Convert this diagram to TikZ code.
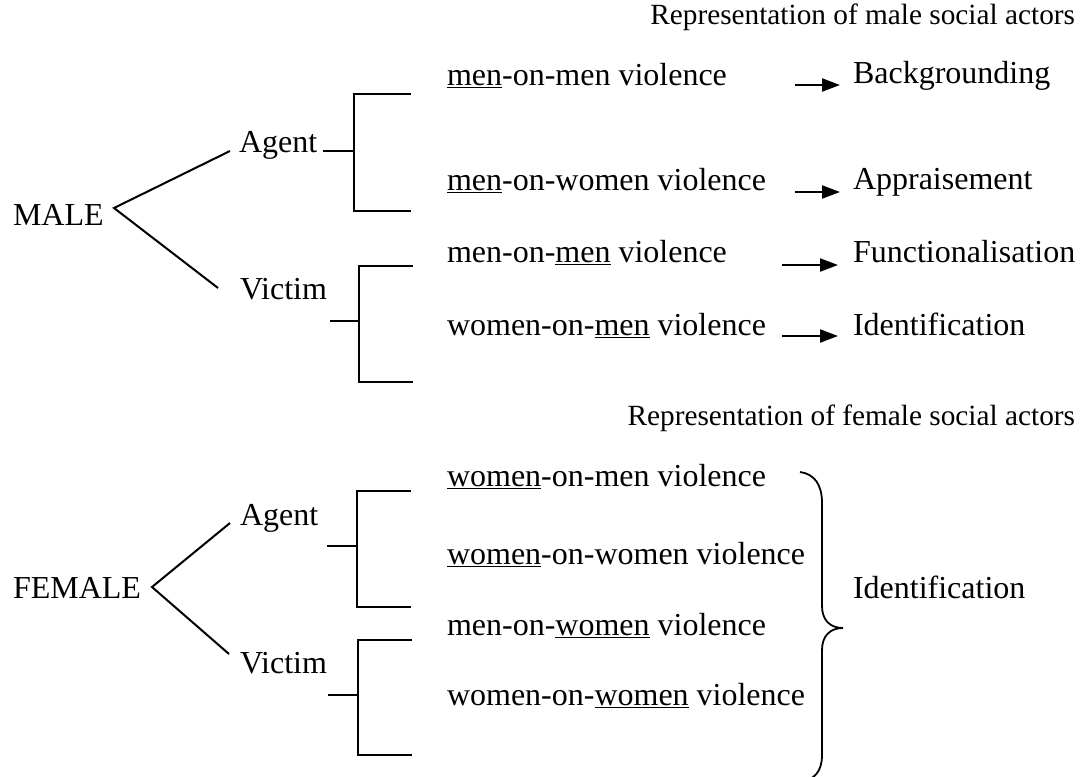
\documentclass[tikz,border=0pt]{standalone}
\usepackage{fontspec}
\setmainfont{Liberation Serif}
\usetikzlibrary{arrows.meta}
\newcommand\ulw[1]{\setbox0\hbox{#1}\rlap{\rule[-3.3pt]{\wd0}{1.6pt}}\box0\relax}
\begin{document}
\begin{tikzpicture}[x=1pt,y=-1pt,
  txt/.style={inner sep=0pt,outer sep=0pt,anchor=base west,font=\fontsize{32}{38}\selectfont},
  hdr/.style={inner sep=0pt,outer sep=0pt,anchor=base east,font=\fontsize{29.3}{35}\selectfont},
  ln/.style={line width=2pt},
  arr/.style={line width=2.2pt,-{Triangle[length=18pt,width=13pt]}}]
\useasboundingbox (0,0) rectangle (1086,776);

% ---- male part
\node[hdr] (hm) at (1075,25) {Representation of male social actors};
\node[txt] (male) at (13,225) {MALE};
\node[txt] (ma) at (239,152) {Agent};
\node[txt] (mv) at (240,299) {Victim};
\node[txt] (t1) at (447,85) {\ulw{men}-on-men violence};
\node[txt] (t2) at (447,190) {\ulw{men}-on-women violence};
\node[txt] (t3) at (447,262) {men-on-\ulw{men} violence};
\node[txt] (t4) at (447,335) {women-on-\ulw{men} violence};
\node[txt] (r1) at (853,83) {Backgrounding};
\node[txt] (r2) at (853,189) {Appraisement};
\node[txt] (r3) at (853,262) {Functionalisation};
\node[txt] (r4) at (853,335) {Identification};

\coordinate (mvx) at (114,208);
\coordinate (maE) at (230,151);
\coordinate (mvE) at (218,288);
\draw[ln] (maE) -- (mvx) -- (mvE);

\coordinate (maS) at (323,151);
\coordinate (maM) at (354,151);
\coordinate (maT) at (354,94);
\coordinate (maB) at (354,211);
\coordinate (maTe) at (411,94);
\coordinate (maBe) at (411,211);
\draw[ln] (maS) -- (maM);
\draw[ln] (maTe) -- (maT) -- (maB) -- (maBe);

\coordinate (mvS) at (330,321);
\coordinate (mvM) at (359,321);
\coordinate (mvT) at (359,266);
\coordinate (mvB) at (359,382);
\coordinate (mvTe) at (413,266);
\coordinate (mvBe) at (413,382);
\draw[ln] (mvS) -- (mvM);
\draw[ln] (mvTe) -- (mvT) -- (mvB) -- (mvBe);

\coordinate (a1s) at (795,85);  \coordinate (a1e) at (840,85);
\coordinate (a2s) at (795,192); \coordinate (a2e) at (840,192);
\coordinate (a3s) at (782,265); \coordinate (a3e) at (838,265);
\coordinate (a4s) at (782,336); \coordinate (a4e) at (838,336);
\draw[arr] (a1s) -- (a1e);
\draw[arr] (a2s) -- (a2e);
\draw[arr] (a3s) -- (a3e);
\draw[arr] (a4s) -- (a4e);

% ---- female part
\node[hdr] (hf) at (1075,425) {Representation of female social actors};
\node[txt] (female) at (13,598) {FEMALE};
\node[txt] (fa) at (240,525) {Agent};
\node[txt] (fv) at (240,673) {Victim};
\node[txt] (b1) at (447,486) {\ulw{women}-on-men violence};
\node[txt] (b2) at (447,564) {\ulw{women}-on-women violence};
\node[txt] (b3) at (447,635) {men-on-\ulw{women} violence};
\node[txt] (b4) at (447,705) {women-on-\ulw{women} violence};
\node[txt] (rid) at (853,598) {Identification};

\coordinate (fvx) at (152,587);
\coordinate (faE) at (230,523);
\coordinate (fvE) at (229,654);
\draw[ln] (faE) -- (fvx) -- (fvE);

\coordinate (faS) at (327,546);
\coordinate (faM) at (357,546);
\coordinate (faT) at (357,491);
\coordinate (faB) at (357,607);
\coordinate (faTe) at (411,491);
\coordinate (faBe) at (411,607);
\draw[ln] (faS) -- (faM);
\draw[ln] (faTe) -- (faT) -- (faB) -- (faBe);

\coordinate (fvS) at (328,695);
\coordinate (fvM) at (358,695);
\coordinate (fvT) at (358,640);
\coordinate (fvB) at (358,755);
\coordinate (fvTe) at (412,640);
\coordinate (fvBe) at (412,755);
\draw[ln] (fvS) -- (fvM);
\draw[ln] (fvTe) -- (fvT) -- (fvB) -- (fvBe);

% brace
\coordinate (brT) at (800,472);
\coordinate (brTip) at (843,628);
\coordinate (brB) at (800,782);
\draw[line width=1.8pt] (brT) .. controls (814,474) and (822,484) .. (822,503)
  -- (822,606) .. controls (822,620) and (830,628) .. (brTip)
  .. controls (830,628) and (822,636) .. (822,650)
  -- (822,755) .. controls (822,772) and (814,780) .. (brB);
\end{tikzpicture}
\end{document}
